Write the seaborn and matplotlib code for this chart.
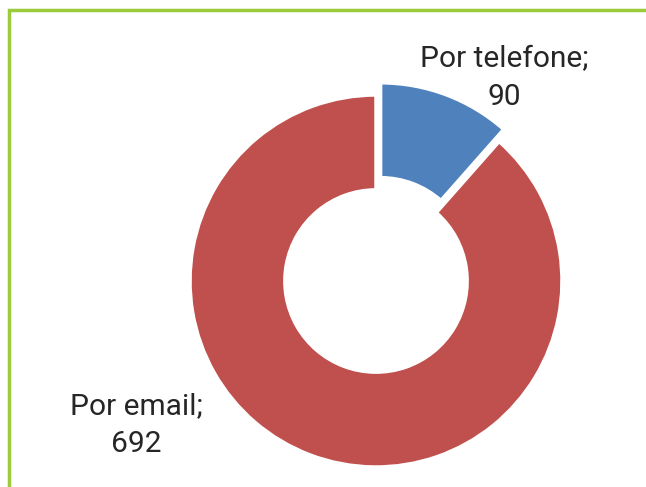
import matplotlib
matplotlib.use("Agg")
import matplotlib.pyplot as plt
import seaborn as sns
from matplotlib.patches import Rectangle
from matplotlib import font_manager

sns.set_theme(style="white")

categories = ["Por telefone", "Por email"]
values = [90, 692]
colors = ["#4F81BD", "#C0504D"]

names = {f.name for f in font_manager.fontManager.ttflist}
fam = ["Liberation Sans Narrow", "DejaVu Sans"] if "Liberation Sans Narrow" in names else ["Roboto", "DejaVu Sans"]
plt.rcParams["font.family"] = fam
fs = 24 if "Liberation Sans Narrow" in names else 21.5

W, H = 646, 487
fig = plt.figure(figsize=(W / 100, H / 100), dpi=100)
fig.patch.set_facecolor("white")
ax = fig.add_axes([0, 0, 1, 1])
ax.set_facecolor("white")

cx, cy, R = 376, 281, 186
ax.pie(values, colors=colors, startangle=90, counterclock=False,
       explode=[0.07, 0], radius=1.0,
       wedgeprops=dict(width=0.51, edgecolor="white", linewidth=2.5))
ax.set_xlim(-cx / R, (W - cx) / R)
ax.set_ylim(-(H - cy) / R, cy / R)
ax.set_aspect("equal")
ax.axis("off")

def fx(px):
    return px / W

def fy(py):
    return 1 - py / H

fig.text(fx(504), fy(78), f"{categories[0]};\n{values[0]}", ha="center", va="center",
         fontsize=fs, color="#262626", linespacing=1.45)
fig.text(fx(136), fy(425), f"{categories[1]};\n{values[1]}", ha="center", va="center",
         fontsize=fs, color="#262626", linespacing=1.45)

fig.add_artist(Rectangle((fx(9), fy(H + 20)), 1.2, fy(10) - fy(H + 20),
                         transform=fig.transFigure, fill=False,
                         edgecolor="#9BCB3B", linewidth=2.5, clip_on=False))

fig.savefig("out.png", dpi=100)
